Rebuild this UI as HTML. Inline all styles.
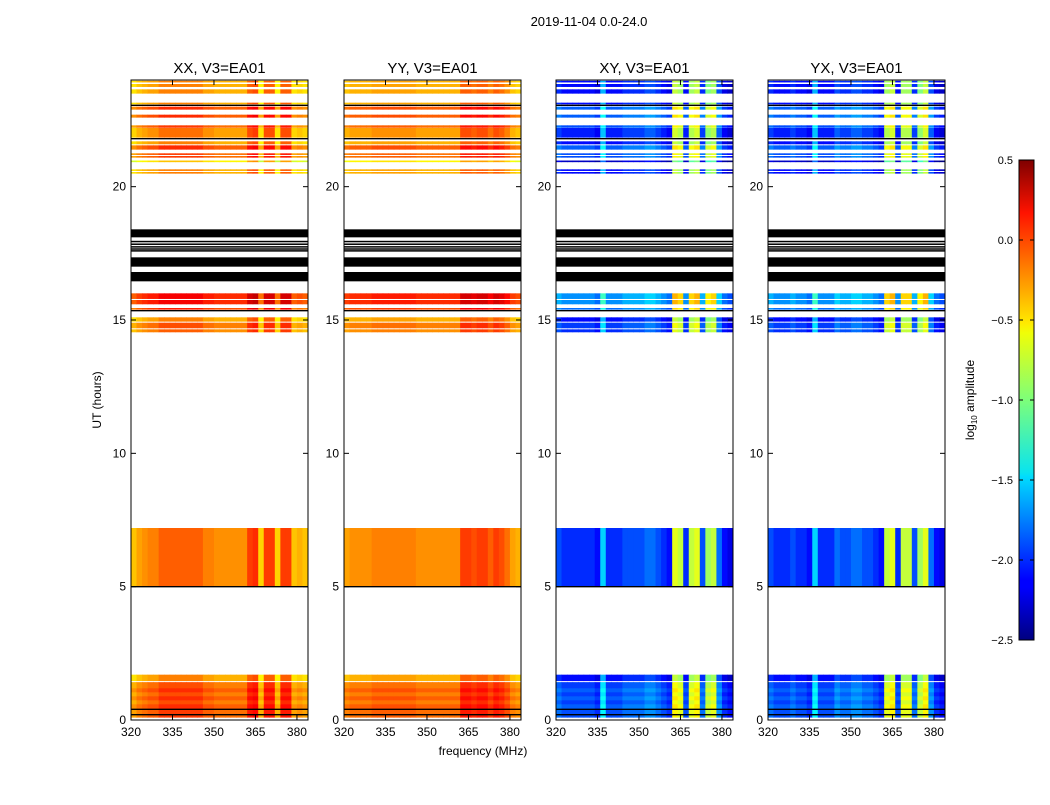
<!DOCTYPE html>
<html><head><meta charset="utf-8"><style>
body{margin:0;background:#fff;}
svg text{font-family:"Liberation Sans","DejaVu Sans",sans-serif;}
</style></head><body>
<svg id="c" width="1050" height="800" xmlns="http://www.w3.org/2000/svg">
<defs>
<linearGradient id="jet" x1="0" y1="1" x2="0" y2="0">
<stop offset="0" stop-color="#00007f"/><stop offset="0.11" stop-color="#0000ff"/>
<stop offset="0.125" stop-color="#0000ff"/><stop offset="0.34" stop-color="#00dcfe"/>
<stop offset="0.35" stop-color="#0ae4ee"/><stop offset="0.5" stop-color="#7dff7a"/>
<stop offset="0.64" stop-color="#f0fe07"/><stop offset="0.66" stop-color="#ffea00"/>
<stop offset="0.89" stop-color="#ff1300"/><stop offset="1" stop-color="#7f0000"/>
</linearGradient>
</defs>
<text x="589" y="26" font-size="13" text-anchor="middle">2019-11-04 0.0-24.0</text>
<text x="483" y="755" font-size="12" text-anchor="middle">frequency (MHz)</text>
<text x="101" y="400" font-size="12" text-anchor="middle" transform="rotate(-90 101 400)">UT (hours)</text>
<g id="panels"></g>
<g>
<rect x="1019" y="160" width="15" height="480" fill="url(#jet)" stroke="#000" stroke-width="1"/>
<g id="cbticks"></g>
<text x="974" y="400" font-size="12" text-anchor="middle" transform="rotate(-90 974 400)">log<tspan font-size="8" dy="3">10</tspan><tspan dy="-3"> amplitude</tspan></text>
</g>
</svg>
<script>
const panelTitles=["XX, V3=EA01","YY, V3=EA01","XY, V3=EA01","YX, V3=EA01"];
const panelLefts=[131,344,556,768];
const freqStart=320, freqStep=2;
const profXX=[-0.45,-0.35,-0.3,-0.25,-0.25,-0.15,-0.15,-0.15,-0.15,-0.15,-0.15,-0.15,-0.15,-0.25,-0.25,-0.3,-0.3,-0.3,-0.3,-0.3,-0.3,-0.05,0,-0.5,-0.05,-0.05,-0.5,-0.05,-0.05,-0.45,-0.4,-0.45];
const profYY=[-0.35,-0.3,-0.3,-0.3,-0.3,-0.25,-0.25,-0.25,-0.25,-0.25,-0.25,-0.25,-0.25,-0.3,-0.3,-0.3,-0.3,-0.3,-0.3,-0.3,-0.3,-0.05,-0.05,-0.1,-0.05,-0.05,-0.15,-0.05,-0.1,-0.2,-0.35,-0.4];
const profXY=[-1.9,-2.0,-2.0,-2.0,-2.0,-2.0,-2.0,-2.1,-1.5,-2.0,-2.0,-2.0,-1.9,-1.9,-1.9,-1.9,-1.8,-1.8,-1.9,-2.0,-2.1,-0.7,-0.8,-2.0,-0.8,-0.7,-1.9,-0.9,-0.8,-1.8,-2.1,-2.2];
const profYX=[-1.9,-2.0,-2.0,-2.0,-1.9,-2.0,-2.0,-2.1,-1.5,-2.0,-2.0,-2.0,-1.8,-1.9,-1.9,-1.8,-1.8,-1.9,-1.9,-2.0,-2.1,-0.8,-0.7,-2.0,-0.8,-0.8,-1.9,-0.9,-0.7,-1.8,-2.1,-2.2];
const bandStart=[0.1,0.2,0.4,0.6,0.75,0.9,1.05,1.2,1.47,5.0,14.55,14.7,14.95,15.4,15.6,15.8,20.5,20.6,20.93,21.1,21.2,21.4,21.6,21.85,22.22,22.6,22.9,23.1,23.5,23.75,23.92];
const bandEnd=[0.2,0.4,0.6,0.75,0.9,1.05,1.2,1.42,1.7,7.2,14.65,14.9,15.1,15.45,15.75,16.0,20.55,20.65,20.98,21.15,21.25,21.55,21.7,22.2,22.3,22.7,23.0,23.15,23.65,23.85,23.97];
const bandOffset=[0.1,0.1,0.15,0.05,0.15,0.05,0.15,0.05,-0.1,0,0,0.05,-0.1,0.2,0.3,0.3,-0.1,-0.1,-0.3,0.1,0.1,0.15,-0.1,-0.05,0.1,0.15,0.15,-0.1,-0.1,-0.1,-0.1];
const blackStart=[18.1,17.0,16.45,17.59,17.66,17.74,17.84,17.94];
const blackEnd=[18.4,17.35,16.8,17.62,17.69,17.77,17.87,17.97];
const lineHours=[23.05,21.8,15.35,5.0,0.4,0.2];
const yTicks=[0,5,10,15,20];
const xTicks=[320,335,350,365,380];
const cbTicks=[0.5,0.0,-0.5,-1.0,-1.5,-2.0,-2.5];
const profiles=[profXX,profYY,profXY,profYX];

const NS="http://www.w3.org/2000/svg";
const W=177,TOP=80,BOT=720;
const yS=h=>BOT-(h/24)*(BOT-TOP);
const xS=(f,l)=>l+(f-320)/64*W;
function jet(v){let t=(v+2.5)/3;t=Math.max(0,Math.min(1,t));
 const r=Math.min(1,Math.max(0,1.5-Math.abs(4*t-3))),g=Math.min(1,Math.max(0,1.5-Math.abs(4*t-2))),b=Math.min(1,Math.max(0,1.5-Math.abs(4*t-1)));
 return `rgb(${Math.round(r*255)},${Math.round(g*255)},${Math.round(b*255)})`;}
function mk(tag,attrs,parent){const e=document.createElementNS(NS,tag);for(const k in attrs)e.setAttribute(k,attrs[k]);parent.appendChild(e);return e;}
const root=document.getElementById("panels");
panelTitles.forEach((title,p)=>{
 const L=panelLefts[p];
 const g=mk("g",{},root);
 
 
 const prof=profiles[p];
 for(let b=0;b<bandStart.length;b++){
  const y1=yS(bandEnd[b]),y2=yS(bandStart[b]);
  for(let i=0;i<prof.length;i++){
   const f=freqStart+i*freqStep;
   const x1=xS(f,L),x2=xS(f+freqStep,L);
   const r=mk("rect",{x:x1,y:y1,width:x2-x1+0.5,height:Math.max(1,y2-y1+0.3),fill:jet(prof[i]+bandOffset[b])},g);
   
   
  }
 }
 for(let k=0;k<blackStart.length;k++){
  const r=mk("rect",{x:L,y:yS(blackEnd[k]),width:W,height:Math.max(1.5,yS(blackStart[k])-yS(blackEnd[k])),fill:"#000"},g);
  
  
 }
 lineHours.forEach(h=>{const l=mk("line",{x1:L,x2:L+W,y1:yS(h),y2:yS(h),stroke:"#000","stroke-width":1.3},g);
  
  });
 const fr=mk("rect",{x:L,y:TOP,width:W,height:BOT-TOP,fill:"none",stroke:"#000","stroke-width":1},g);
 
 
 const t=mk("text",{x:L+W/2,y:73,"font-size":15,"text-anchor":"middle"},g);t.textContent=title;
 
 
 yTicks.forEach(v=>{const y=yS(v);
  mk("line",{x1:L,x2:L+5,y1:y,y2:y,stroke:"#000"},g);mk("line",{x1:L+W-5,x2:L+W,y1:y,y2:y,stroke:"#000"},g);
  const tx=mk("text",{x:L-5,y:y+4,"font-size":12,"text-anchor":"end"},g);tx.textContent=v;
  
  });
 xTicks.forEach(v=>{const x=xS(v,L);
  mk("line",{x1:x,x2:x,y1:BOT,y2:BOT-5,stroke:"#000"},g);mk("line",{x1:x,x2:x,y1:TOP,y2:TOP+5,stroke:"#000"},g);
  const tx=mk("text",{x:x,y:BOT+16,"font-size":12,"text-anchor":"middle"},g);tx.textContent=v;
  
  });
});
const cb=document.getElementById("cbticks");
cbTicks.forEach(v=>{const y=640-(v+2.5)/3*480;
 mk("line",{x1:1019,x2:1023,y1:y,y2:y,stroke:"#000"},cb);mk("line",{x1:1030,x2:1034,y1:y,y2:y,stroke:"#000"},cb);
 const tx=mk("text",{x:1013,y:y+4,"font-size":11,"text-anchor":"end"},cb);tx.textContent=(v<0?"\u2212":"")+Math.abs(v).toFixed(1);
 
 });
</script>
</body></html>
